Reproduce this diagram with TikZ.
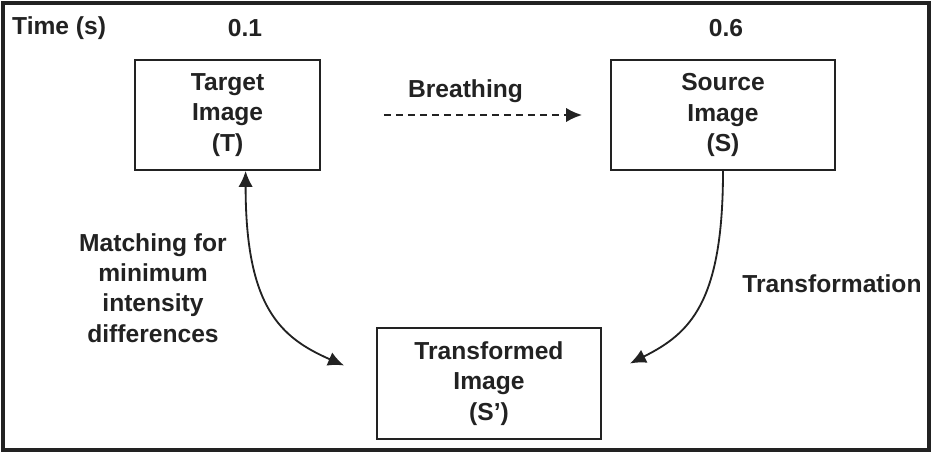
\documentclass[tikz,border=0pt]{standalone}
\usepackage{fontspec}
\setmainfont{Liberation Sans}
\usetikzlibrary{arrows.meta,positioning}
\definecolor{inkgray}{RGB}{34,34,34}

\begin{document}
\begin{tikzpicture}[>={Latex[length=0.4cm,width=0.36cm]},
  font=\fontsize{17.5}{21.5}\selectfont\bfseries,text=inkgray,
  box/.style={draw=inkgray,line width=1.3pt,minimum width=4.62cm,
  minimum height=2.75cm,align=center,inner sep=0pt},
  link/.style={draw=inkgray,line width=1.3pt}]
  \useasboundingbox (0,0) rectangle (23.3,-11.325);
  \draw[inkgray,line width=2.8pt] (0.075,-0.075) rectangle (23.225,-11.25);
  \node[anchor=west] (time) at (0.18,-0.7) {Time (s)};
  \node (t1) at (6.125,-0.7) {0.1};
  \node (t2) at (18.15,-0.7) {0.6};
  \node[box] (target) at (5.69,-2.875) {Target\\Image\\(T)};
  \node[box,minimum width=5.6cm] (source) at (18.075,-2.875) {Source\\Image\\(S)};
  \node[box,minimum width=5.6cm,minimum height=2.775cm] (transformed) at (12.225,-9.5875)
    {Transformed\\Image\\(S’)};
  \draw[link,->,line width=1.5pt,dash pattern=on 0.175cm off 0.125cm,
    shorten <=1.575cm,shorten >=0.7cm]
    (target.east) -- (source.west)
    node[midway,above=0.28cm,inner sep=0pt] {Breathing};
  \draw[link,<->] ([xshift=0.45cm]target.south)
    .. controls +(0,-3.4cm) and +(-1.6cm,0.7cm) ..
    ([xshift=-0.8cm,yshift=0.45cm]transformed.west);
  \draw[link,->] (source.south)
    .. controls +(0,-3.3cm) and +(1.5cm,0.75cm) ..
    ([xshift=0.7cm,yshift=0.5cm]transformed.east);
  \node[align=center] (match) at (3.825,-7.2)
    {Matching for\\minimum\\intensity\\differences};
  \node (transf) at (20.8,-7.1) {Transformation};
\end{tikzpicture}
\end{document}
